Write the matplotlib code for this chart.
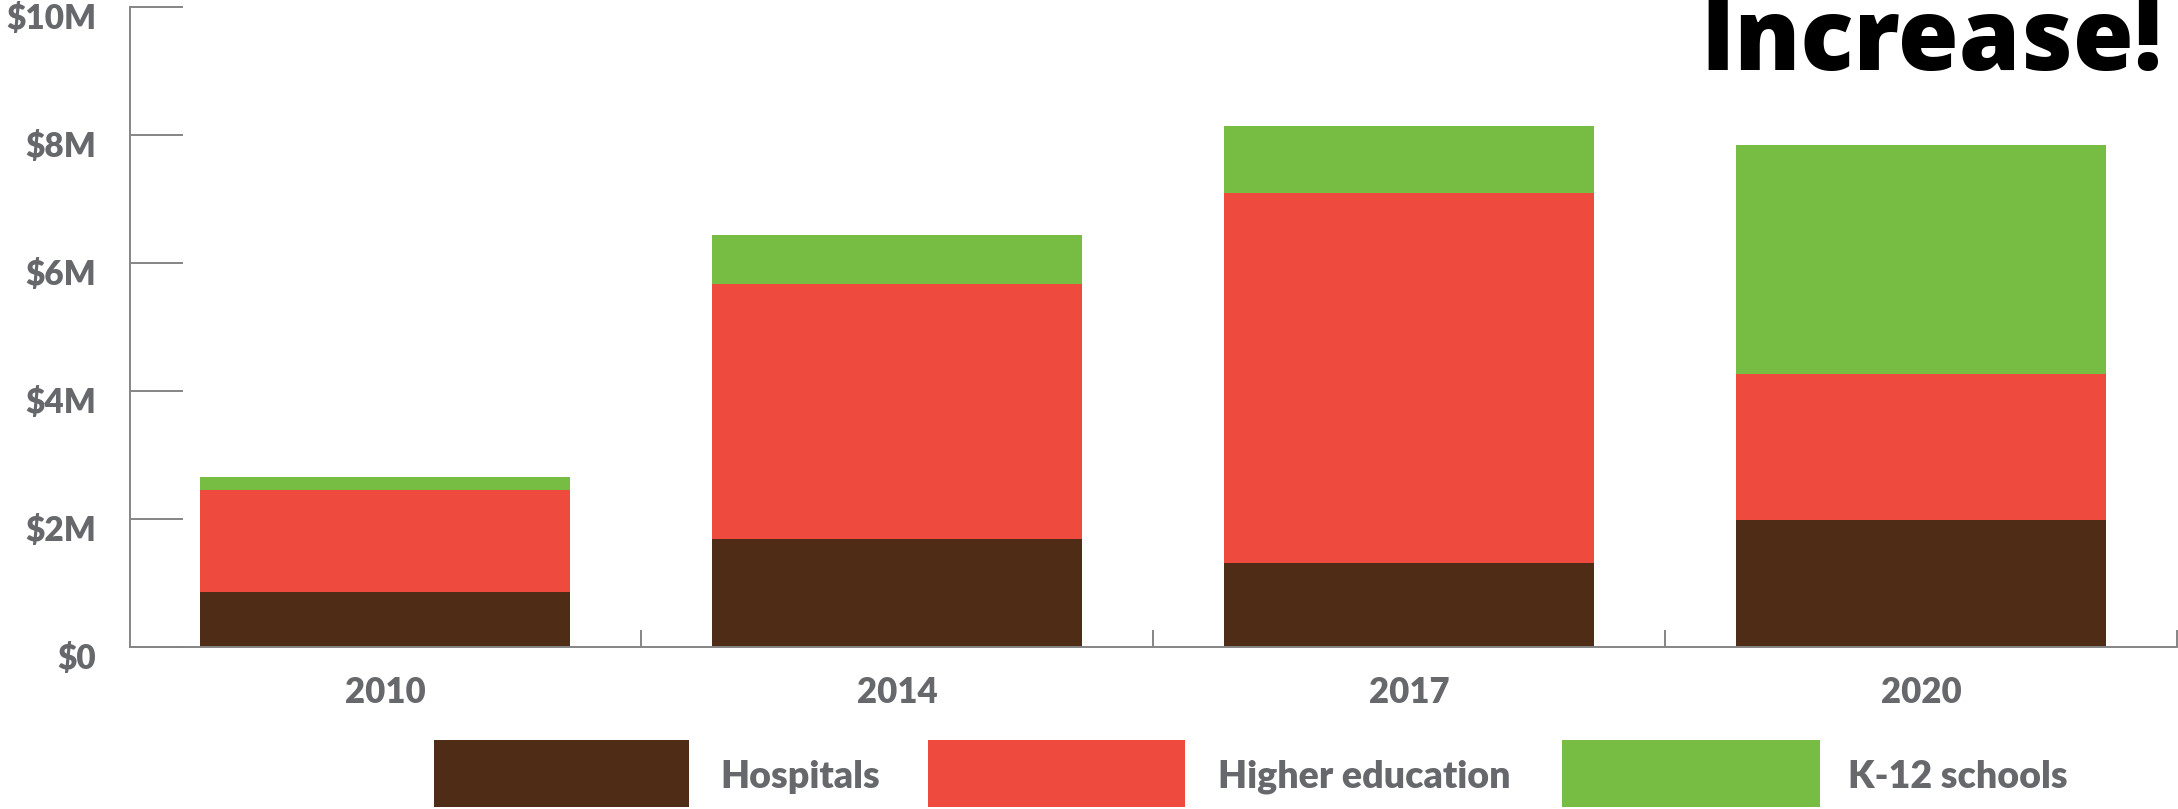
import matplotlib.pyplot as plt
from matplotlib.patches import Rectangle
from matplotlib.transforms import ScaledTranslation

years = ['2010', '2014', '2017', '2020']
hospitals = [0.86, 1.69, 1.31, 1.99]
higher_ed = [1.60, 3.98, 5.79, 2.28]
k12 = [0.20, 0.77, 1.04, 3.58]
series_names = ['Hospitals', 'Higher education', 'K-12 schools']
y_ticks = [0, 2, 4, 6, 8, 10]
y_labels = ['$0', '$2M', '$4M', '$6M', '$8M', '$10M']

colors = ['#4e2c15', '#ee4a3d', '#77bd43']
gray = '#67686c'
label_font = ['Lato', 'DejaVu Sans']
W, H = 2178, 809

fig = plt.figure(figsize=(W / 100, H / 100), dpi=100)
ax = fig.add_axes([129.5 / W, 162 / H, (2177 - 129.5) / W, 640 / H])

x = range(len(years))
bottom = [0.0] * len(years)
for vals, c in zip([hospitals, higher_ed, k12], colors):
    ax.bar(x, vals, width=0.723, bottom=bottom, color=c, linewidth=0)
    bottom = [b + v for b, v in zip(bottom, vals)]

ax.set_xlim(-0.5, 3.5)
ax.set_ylim(0, 10)

for s in ['top', 'right']:
    ax.spines[s].set_visible(False)
for s in ['left', 'bottom']:
    ax.spines[s].set_color('#858585')
    ax.spines[s].set_linewidth(1.4)

ax.set_yticks(y_ticks)
ax.set_yticklabels(y_labels)
ax.tick_params(axis='y', direction='in', length=38, width=1.4, color='#858585',
               pad=24, labelsize=24, labelcolor=gray)
for lab in ax.get_yticklabels():
    lab.set_fontfamily(label_font)
    lab.set_fontweight('heavy')
    lab.set_transform(lab.get_transform() + ScaledTranslation(0, -9 / 100, fig.dpi_scale_trans))

ax.set_xticks(list(x))
ax.set_xticklabels(years)
ax.set_xticks([0.5, 1.5, 2.5, 3.5], minor=True)
ax.tick_params(axis='x', which='major', length=0, pad=21, labelsize=25, labelcolor=gray)
ax.tick_params(axis='x', which='minor', direction='in', length=12, width=1.4, color='#858585')
for lab in ax.get_xticklabels():
    lab.set_fontfamily(label_font)
    lab.set_fontweight('heavy')

# legend drawn by hand along the bottom edge
box_x = [(434, 689), (928, 1185), (1562, 1820)]
text_x = [720, 1218, 1848]
for (x0, x1), tx, name, c in zip(box_x, text_x, series_names, colors):
    fig.add_artist(Rectangle((x0 / W, 1 - 807 / H), (x1 - x0) / W, 67 / H,
                             transform=fig.transFigure, color=c, linewidth=0))
    fig.text(tx / W, 1 - 788 / H, name, ha='left', va='baseline', fontsize=27,
             fontweight='heavy', color=gray, family=label_font)

fig.text(2163 / W, 1 - 70 / H, 'Increase!', ha='right', va='baseline', fontsize=71,
         fontweight='heavy', color='black', family=['Open Sans', 'DejaVu Sans'])

fig.savefig('out.png', dpi=100)
